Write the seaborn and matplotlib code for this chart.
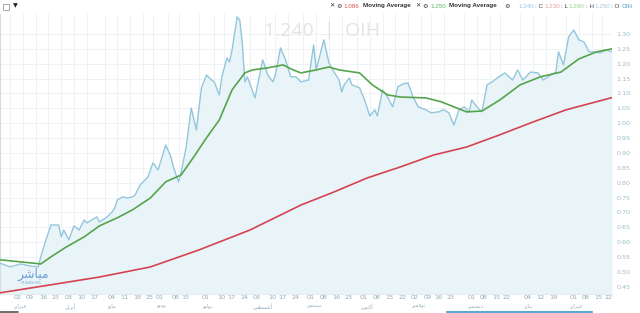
import matplotlib
matplotlib.use("Agg")
import matplotlib.pyplot as plt
import matplotlib.transforms as mtrans
from matplotlib.lines import Line2D
from matplotlib.patches import Rectangle
import pandas as pd
import seaborn as sns

# ---------------- data ----------------
price_day = [0, 4, 8, 12, 15, 16, 18, 20, 23, 24, 25, 27, 29, 31, 33, 34, 36, 38, 39, 42,
             44, 45, 46, 48, 50, 52, 53, 55, 58, 60, 62, 65, 67, 68, 70, 71, 73, 75, 77, 79,
             81, 83, 84, 86, 87, 89, 90, 91, 93, 94, 95, 96, 97, 100, 103, 105, 107, 108, 110, 112,
             114, 116, 118, 121, 123, 124, 127, 129, 131, 133, 134, 135, 137, 138, 141, 143, 145, 147, 148, 150,
             152, 154, 156, 158, 160, 162, 164, 167, 169, 172, 174, 176, 178, 180, 182, 184, 185, 187, 189, 191,
             193, 195, 198, 201, 203, 205, 208, 211, 213, 216, 218, 219, 221, 223, 225, 227, 229, 231, 233, 235,
             238, 240]
price_val = [0.530, 0.517, 0.527, 0.520, 0.517, 0.551, 0.608, 0.658, 0.658, 0.618, 0.641, 0.608, 0.655, 0.641, 0.675, 0.665, 0.675, 0.685, 0.668, 0.685,
             0.702, 0.715, 0.742, 0.752, 0.749, 0.752, 0.759, 0.793, 0.819, 0.867, 0.843, 0.927, 0.887, 0.853, 0.803, 0.833, 0.920, 1.051, 0.977, 1.119,
             1.162, 1.145, 1.139, 1.095, 1.156, 1.219, 1.206, 1.246, 1.357, 1.347, 1.270, 1.139, 1.156, 1.085, 1.213, 1.162, 1.139, 1.162, 1.253, 1.213,
             1.156, 1.156, 1.139, 1.145, 1.263, 1.179, 1.280, 1.203, 1.172, 1.145, 1.105, 1.129, 1.152, 1.129, 1.119, 1.078, 1.024, 1.045, 1.024, 1.112,
             1.088, 1.055, 1.122, 1.132, 1.135, 1.088, 1.055, 1.045, 1.035, 1.038, 1.045, 1.035, 0.994, 1.045, 1.055, 1.038, 1.078, 1.055, 1.038, 1.129,
             1.139, 1.152, 1.169, 1.145, 1.179, 1.145, 1.172, 1.169, 1.145, 1.162, 1.172, 1.240, 1.196, 1.290, 1.313, 1.280, 1.273, 1.240, 1.240, 1.236,
             1.246, 1.240]

ma_fast_day = [0, 8, 16, 20, 26, 33, 39, 46, 52, 59, 65, 71, 76, 81, 86, 91, 96, 99, 105, 111,
               115, 118, 124, 129, 133, 141, 146, 152, 157, 167, 173, 178, 183, 189, 196, 204, 212, 220, 227, 234, 240]
ma_fast_val = [0.541, 0.534, 0.527, 0.551, 0.584, 0.618, 0.655, 0.682, 0.709, 0.749, 0.803, 0.826, 0.887, 0.951, 1.011, 1.112, 1.169, 1.179, 1.186, 1.196,
               1.179, 1.169, 1.179, 1.189, 1.179, 1.169, 1.129, 1.095, 1.088, 1.085, 1.072, 1.055, 1.038, 1.041, 1.078, 1.129, 1.156, 1.172, 1.216, 1.240, 1.250]

ma_slow_day = [0, 20, 39, 59, 78, 98, 118, 131, 144, 157, 170, 183, 196, 209, 222, 240]
ma_slow_val = [0.430, 0.457, 0.483, 0.517, 0.574, 0.641, 0.725, 0.769, 0.816, 0.853, 0.893, 0.920, 0.961, 1.004, 1.045, 1.086]

tick_days = [4, 9, 14, 19, 24, 29, 34, 41, 46, 51, 56, 60, 66, 70, 78, 84, 88, 93,
             98, 104, 108, 113, 119, 124, 129, 134, 140, 145, 150, 155, 160, 165, 169, 174,
             182, 187, 192, 196, 204, 209, 214, 222, 227, 232, 236]
tick_labels = ["02", "09", "16", "23", "03", "10", "17", "04", "11", "18", "25", "01", "08", "15",
               "01", "10", "17", "24", "03", "10", "17", "24", "01", "08", "16", "23", "01", "08", "15", "22",
               "02", "09", "16", "23", "01", "08", "15", "22", "04", "12", "19", "01", "08", "15", "22"]
month_days = [4, 24, 41, 60, 78, 98, 119, 140, 160, 182, 204, 222]
month_names = ["فبراير", "أبريل", "مايو", "يونيو", "يوليو", "أغسطس", "سبتمبر", "أكتوبر",
               "نوفمبر", "ديسمبر", "يناير", "فبراير"]
y_ticks = [0.45, 0.50, 0.55, 0.60, 0.65, 0.70, 0.75, 0.80, 0.85, 0.90, 0.95, 1.00,
           1.05, 1.10, 1.15, 1.20, 1.25, 1.30]

# ---------------- simple Arabic shaping for display ----------------
FORMS = {
    'ا': (0xFE8D, 0xFE8E, None, None), 'أ': (0xFE83, 0xFE84, None, None),
    'ب': (0xFE8F, 0xFE90, 0xFE91, 0xFE92), 'ت': (0xFE95, 0xFE96, 0xFE97, 0xFE98),
    'د': (0xFEA9, 0xFEAA, None, None), 'ر': (0xFEAD, 0xFEAE, None, None),
    'س': (0xFEB1, 0xFEB2, 0xFEB3, 0xFEB4), 'ش': (0xFEB5, 0xFEB6, 0xFEB7, 0xFEB8),
    'ط': (0xFEC1, 0xFEC2, 0xFEC3, 0xFEC4), 'غ': (0xFECD, 0xFECE, 0xFECF, 0xFED0),
    'ف': (0xFED1, 0xFED2, 0xFED3, 0xFED4), 'ك': (0xFED9, 0xFEDA, 0xFEDB, 0xFEDC),
    'ل': (0xFEDD, 0xFEDE, 0xFEDF, 0xFEE0), 'م': (0xFEE1, 0xFEE2, 0xFEE3, 0xFEE4),
    'ن': (0xFEE5, 0xFEE6, 0xFEE7, 0xFEE8), 'و': (0xFEED, 0xFEEE, None, None),
    'ي': (0xFEF1, 0xFEF2, 0xFEF3, 0xFEF4),
}


def shape(s):
    out = []
    for i, c in enumerate(s):
        f = FORMS.get(c)
        if f is None:
            out.append(c)
            continue
        prev = s[i - 1] if i > 0 else None
        nxt = s[i + 1] if i + 1 < len(s) else None
        jp = prev in FORMS and FORMS[prev][2] is not None
        jn = nxt in FORMS and f[2] is not None
        if jp and jn:
            code = f[3]
        elif jp:
            code = f[1]
        elif jn:
            code = f[2]
        else:
            code = f[0]
        out.append(chr(code))
    return "".join(reversed(out))


# ---------------- styling ----------------
sns.set_theme(style="white")
plt.rcParams["font.family"] = ["DejaVu Sans"]

W, H = 640, 313
fig = plt.figure(figsize=(W / 100, H / 100), dpi=100)
fig.patch.set_facecolor("white")
ax = fig.add_axes([0.0, 19 / H, 612 / W, 280 / H])
ax.set_facecolor("white")

ymin, ymax = 0.426, 1.367
price_df = pd.DataFrame({"day": price_day, "price": price_val})
fast_df = pd.DataFrame({"day": ma_fast_day, "ma": ma_fast_val})
slow_df = pd.DataFrame({"day": ma_slow_day, "ma": ma_slow_val})

ax.fill_between(price_df["day"], price_df["price"], ymin, color="#e9f4f9", zorder=1, lw=0)
sns.lineplot(data=price_df, x="day", y="price", ax=ax, color="#93c6dc", linewidth=1.0, zorder=3)
sns.lineplot(data=slow_df, x="day", y="ma", ax=ax, color="#d4434f", linewidth=1.2, zorder=4)
sns.lineplot(data=fast_df, x="day", y="ma", ax=ax, color="#55a44b", linewidth=1.2, zorder=4)

ax.set_xlim(0, 240)
ax.set_ylim(ymin, ymax)
ax.set_xlabel("")
ax.set_ylabel("")

# grid
ax.set_xticks(tick_days)
ax.set_yticks(y_ticks)
ax.grid(True, color="#edf2f5", linewidth=0.7, zorder=0)
ax.set_axisbelow(True)

# y axis on right
ax.yaxis.tick_right()
ax.set_yticklabels([f"{v:.2f}" for v in y_ticks])
ax.tick_params(axis="y", length=0, pad=3, labelsize=4.6, labelcolor="#9cbccc")

# x axis major ticks (weekly) and month labels (minor)
ax.set_xticklabels(tick_labels)
ax.tick_params(axis="x", which="major", direction="out", length=5.8, width=0.6,
               color="#ccd5da", pad=-5.2, labelsize=4.6, labelcolor="#8fabbb")
off = mtrans.ScaledTranslation(2.2 / 72, 0, fig.dpi_scale_trans)
for lab in ax.get_xticklabels():
    lab.set_horizontalalignment("left")
    lab.set_transform(lab.get_transform() + off)

ax.xaxis.remove_overlapping_locs = False
ax.set_xticks(month_days, minor=True)
ax.set_xticklabels([shape(m) for m in month_names], minor=True)
ax.tick_params(axis="x", which="minor", length=0, pad=7.0, labelsize=3.8, labelcolor="#8fabbb")
for lab in ax.get_xticklabels(minor=True):
    lab.set_horizontalalignment("left")
    lab.set_transform(lab.get_transform() + off)

for side in ["top", "right"]:
    ax.spines[side].set_visible(False)
ax.spines["left"].set_color("#d6dde1")
ax.spines["left"].set_linewidth(0.8)
ax.spines["bottom"].set_color("#e3e8eb")
ax.spines["bottom"].set_linewidth(0.6)

# watermark
ax.text(0.5255, 0.94, "1.240  |  OIH", transform=ax.transAxes, ha="center", va="center",
        fontsize=14, color="#e2e4e6", family=["Open Sans", "DejaVu Sans"], zorder=2)

# mubasher logo watermark
fig.text(33 / W, 1 - 274 / H, shape("مباشر"), ha="center", va="center", fontsize=9,
         color="#6d9fd0", family=["DejaVu Sans"])
fig.text(31 / W, 1 - 283 / H, "MUBASHER", ha="center", va="center", fontsize=2.6, color="#8fb3d2")

# header bar: items placed one after another
header = [
    ("✕", "#333333", True, 2), ("⚙", "#333333", True, 2), ("1.086", "#d9534f", False, 3),
    ("Moving Average", "#333333", True, 5),
    ("✕", "#333333", True, 2), ("⚙", "#333333", True, 2), ("1.250", "#5cb85c", False, 3),
    ("Moving Average", "#333333", True, 8),
    ("⚙", "#333333", True, 8),
    ("1.240", "#8fc7de", False, 1), (": C", "#444444", False, 1),
    ("1.230", "#e59a9a", False, 1), (": L", "#444444", False, 1),
    ("1.260", "#8fcf8f", False, 1), (": H", "#444444", False, 1),
    ("1.250", "#a9c6d6", False, 1), (": O", "#444444", False, 2),
    ("OIH", "#7fb7d6", True, 0),
]
renderer = fig.canvas.get_renderer()
hx, hy = 329, 6
for s, col, bold, gap in header:
    fam = ["DejaVu Sans"] if s in ("✕", "⚙") else ["Liberation Sans", "DejaVu Sans"]
    t = fig.text(hx / W, 1 - hy / H, s, ha="left", va="center", fontsize=4.5, color=col,
                 weight="bold" if bold else "normal", family=fam)
    bb = t.get_window_extent(renderer=renderer)
    hx += bb.width + gap

# top-left controls
fig.add_artist(Rectangle((3 / W, 1 - 10 / H), 6 / W, 6 / H, transform=fig.transFigure,
                         fill=False, edgecolor="#9a9a9a", linewidth=0.6))
fig.text(15 / W, 1 - 6 / H, "▼", ha="center", va="center", fontsize=4.5, color="#222222")

# bottom navigator strip
fig.add_artist(Line2D([447 / W, 592 / W], [1 - 312 / H, 1 - 312 / H], transform=fig.transFigure,
                      color="#5aa7d6", linewidth=1.5))
fig.add_artist(Line2D([0, 18 / W], [1 - 312 / H, 1 - 312 / H], transform=fig.transFigure,
                      color="#555555", linewidth=1.2))

fig.savefig("out.png", dpi=100, facecolor="white")
